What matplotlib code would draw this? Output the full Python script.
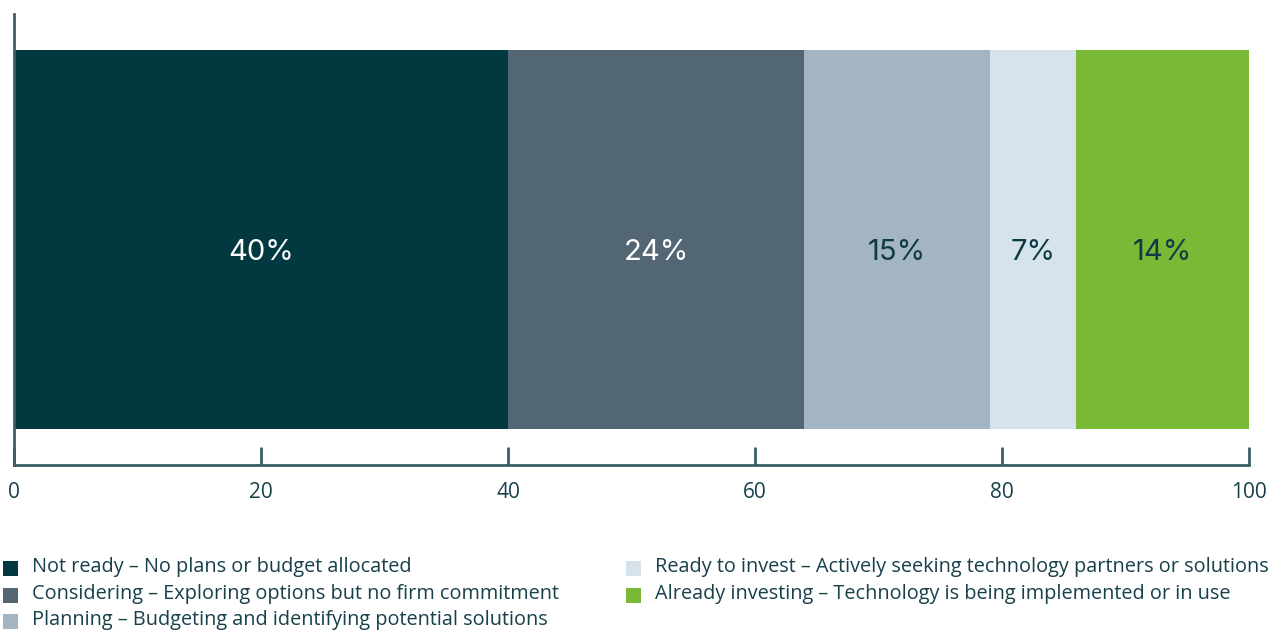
import matplotlib.pyplot as plt
from matplotlib.patches import Rectangle

plt.rcParams['font.family'] = ['Open Sans', 'DejaVu Sans']

stages = ['Not ready – No plans or budget allocated',
          'Considering – Exploring options but no firm commitment',
          'Planning – Budgeting and identifying potential solutions',
          'Ready to invest – Actively seeking technology partners or solutions',
          'Already investing – Technology is being implemented or in use']
shares = [40, 24, 15, 7, 14]
colors = ['#02383f', '#526673', '#a3b4c2', '#d6e3ec', '#7ab936']
label_colors = ['white', 'white', '#0f3c44', '#0f3c44', '#0f3c44']
ticks = [0, 20, 40, 60, 80, 100]

text_col = '#17404a'
axis_col = '#3a5f66'

fig = plt.figure(figsize=(12.85, 6.3), dpi=100)
ax = fig.add_axes([14 / 1285, 165 / 630, 1235 / 1285, 451 / 630])

left = 0
for share, col, lcol in zip(shares, colors, label_colors):
    ax.barh(0, share, left=left, height=0.84, color=col, linewidth=0)
    ax.text(left + share / 2, -0.029, f'{share}%', ha='center', va='center',
            fontsize=21, family=['Inter', 'DejaVu Sans'], fontweight='normal',
            color=lcol)
    left += share

ax.set_xlim(0, 100)
ax.set_ylim(-0.5, 0.5)
ax.set_xticks(ticks)
ax.set_yticks([])
ax.tick_params(axis='x', direction='in', length=13, width=2, color=axis_col,
               labelcolor=text_col, labelsize=15, pad=12)
for side in ['top', 'right']:
    ax.spines[side].set_visible(False)
for side in ['left', 'bottom']:
    ax.spines[side].set_color(axis_col)
    ax.spines[side].set_linewidth(2)

# legend: two columns drawn by hand
rows_y = [567, 594, 620]
positions = [(3, rows_y[0]), (3, rows_y[1]), (3, rows_y[2]),
             (626, rows_y[0]), (626, rows_y[1])]
for (px, py), name, col in zip(positions, stages, colors):
    fig.patches.append(Rectangle((px / 1285, 1 - (py + 9) / 630), 15 / 1285, 15 / 630,
                                 transform=fig.transFigure, color=col, linewidth=0))
    fig.text((px + 29) / 1285, 1 - py / 630, name, ha='left', va='center',
             fontsize=14.35, color=text_col)

fig.savefig('out.png', dpi=100)
